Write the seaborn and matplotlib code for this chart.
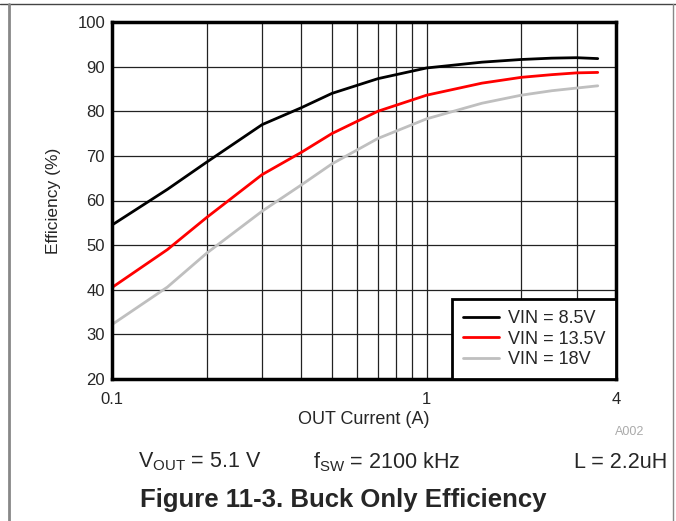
import matplotlib
matplotlib.use("Agg")
import matplotlib.pyplot as plt
import matplotlib.ticker as mticker
from matplotlib.lines import Line2D
import pandas as pd
import seaborn as sns

# values
current_a = [0.1, 0.15, 0.2, 0.3, 0.4, 0.5, 0.7, 1.0, 1.5, 2.0, 2.5, 3.0, 3.5]
eff_vin_8p5 = [54.5, 62.5, 68.6, 77.0, 80.8, 84.0, 87.3, 89.7, 91.0, 91.6, 91.9, 92.0, 91.8]
eff_vin_13p5 = [40.5, 49.0, 56.2, 65.8, 70.8, 75.0, 80.0, 83.6, 86.3, 87.6, 88.2, 88.6, 88.7]
eff_vin_18 = [32.2, 40.6, 48.2, 57.6, 63.5, 68.2, 73.9, 78.3, 81.8, 83.6, 84.6, 85.2, 85.7]
series_names = ["VIN = 8.5V", "VIN = 13.5V", "VIN = 18V"]
series_colors = ["#000000", "#ff0000", "#bfbfbf"]
x_ticks = [0.1, 1, 4]
y_ticks = [20, 30, 40, 50, 60, 70, 80, 90, 100]

df = pd.DataFrame(
    {
        "current": current_a * 3,
        "efficiency": eff_vin_8p5 + eff_vin_13p5 + eff_vin_18,
        "series": [series_names[0]] * len(current_a)
        + [series_names[1]] * len(current_a)
        + [series_names[2]] * len(current_a),
    }
)

sns.set_style("white")
plt.rcParams["font.family"] = ["Liberation Sans", "DejaVu Sans"]

fig = plt.figure(figsize=(6.76, 5.21), dpi=100)
ax = fig.add_axes([112 / 676, 1 - 379 / 521, 504 / 676, 357 / 521])

sns.lineplot(
    data=df,
    x="current",
    y="efficiency",
    hue="series",
    palette=dict(zip(series_names, series_colors)),
    linewidth=2,
    legend=False,
    ax=ax,
)

ax.set_xscale("log")
ax.set_xlim(0.1, 4)
ax.set_ylim(20, 100)
ax.xaxis.set_major_locator(mticker.FixedLocator(x_ticks))
ax.xaxis.set_major_formatter(mticker.FixedFormatter(["0.1", "1", "4"]))
ax.xaxis.set_minor_locator(mticker.LogLocator(base=10, subs=range(2, 10), numticks=20))
ax.xaxis.set_minor_formatter(mticker.NullFormatter())
ax.set_yticks(y_ticks)
ax.grid(True, which="both", axis="x", color="#222222", linewidth=0.9)
ax.grid(True, which="major", axis="y", color="#222222", linewidth=0.9)
ax.tick_params(axis="both", which="both", length=0, labelsize=12)
ax.tick_params(axis="x", pad=9)
ax.tick_params(axis="y", pad=5)
for sp in ax.spines.values():
    sp.set_linewidth(2.5)
    sp.set_color("black")

ax.set_xlabel("OUT Current (A)", fontsize=13, labelpad=3)
ax.set_ylabel("Efficiency (%)", fontsize=12.5, labelpad=12)

handles = [Line2D([], [], color=c, linewidth=2) for c in series_colors]
leg = ax.legend(
    handles,
    series_names,
    loc="lower right",
    fontsize=13,
    frameon=True,
    fancybox=False,
    borderaxespad=0,
    handlelength=2.0,
    handletextpad=0.5,
    labelspacing=0.2,
    borderpad=0.6,
)
leg.get_frame().set_edgecolor("black")
leg.get_frame().set_linewidth(2)
leg.get_frame().set_alpha(1)

fig.text(630 / 676, 1 - 432 / 521, "A002", color="#aaaaaa", fontsize=9, ha="center", va="center")
fig.text(138 / 676, 1 - 462 / 521, r"V$_\mathregular{OUT}$ = 5.1 V", fontsize=15.5, ha="left", va="center")
fig.text(313 / 676, 1 - 462 / 521, r"f$_\mathregular{SW}$ = 2100 kHz", fontsize=15.5, ha="left", va="center")
fig.text(667 / 676, 1 - 462 / 521, "L = 2.2uH", fontsize=15.5, ha="right", va="center")
fig.text(343 / 676, 1 - 500 / 521, "Figure 11-3. Buck Only Efficiency", fontsize=18.5,
         fontweight="bold", ha="center", va="center")

# page frame lines
fig.add_artist(Line2D([0, 1], [1 - 4 / 521, 1 - 4 / 521], color="#444444", linewidth=1))
fig.add_artist(Line2D([9 / 676, 9 / 676], [0, 1 - 4 / 521], color="#888888", linewidth=2))
fig.add_artist(Line2D([673 / 676, 673 / 676], [0, 1 - 4 / 521], color="#888888", linewidth=1))

fig.savefig("out.png", dpi=100)
